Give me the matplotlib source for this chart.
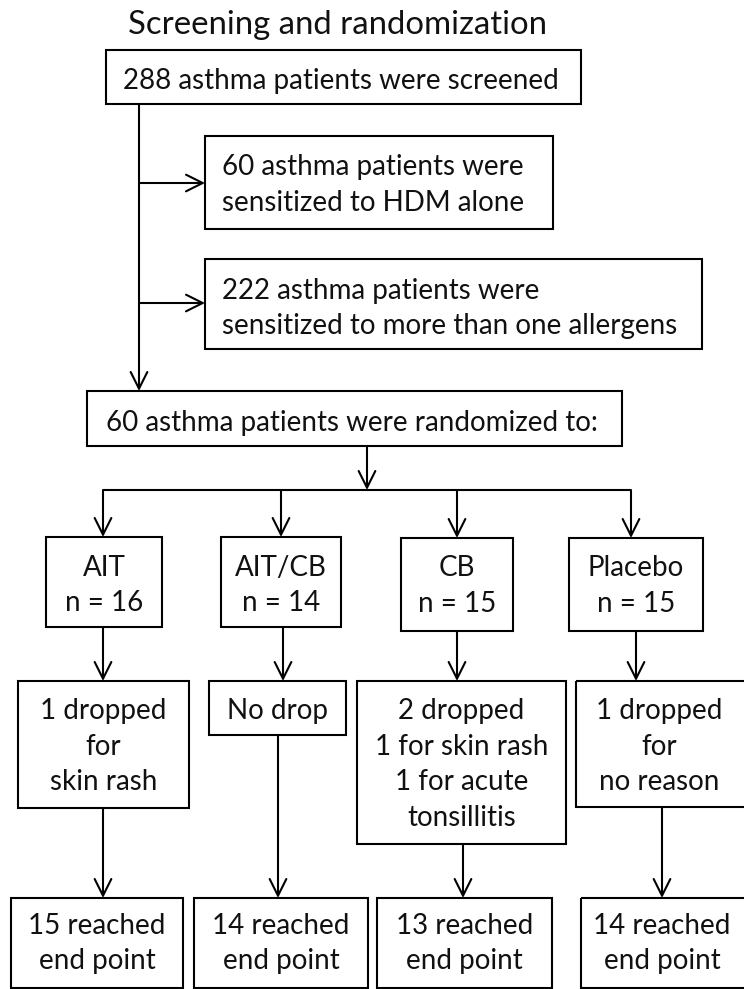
import matplotlib
matplotlib.use("Agg")
import matplotlib.pyplot as plt
from matplotlib.patches import Rectangle, FancyArrowPatch

# text content of the flow chart
TITLE = "Screening and randomization"
SCREENED = ["288 asthma patients were screened"]
HDM_ALONE = ["60 asthma patients were", "sensitized to HDM alone"]
MULTI = ["222 asthma patients were", "sensitized to more than one allergens"]
RANDOMIZED = ["60 asthma patients were randomized to:"]
GROUPS = ["AIT", "AIT/CB", "CB", "Placebo"]
GROUP_N = [16, 14, 15, 15]
DROPS = [
    ["1 dropped", "for", "skin rash"],
    ["No drop"],
    ["2 dropped", "1 for skin rash", "1 for acute", "tonsillitis"],
    ["1 dropped", "for", "no reason"],
]
REACHED = [15, 14, 13, 14]

# layout in pixel coordinates (x0, y0, x1, y1), y grows downward
W, H = 744, 989
GROUP_BOXES = [(46, 537, 162, 627), (221, 537, 341, 627), (401, 538, 513, 631), (569, 538, 703, 631)]
GROUP_IN_X = [103, 281, 457, 631]
GROUP_OUT_X = [103, 283, 457, 636]
DROP_BOXES = [(18, 681, 189, 808), (209, 681, 346, 735), (357, 681, 566, 844), (576, 681, 760, 807)]
DROP_OUT_X = [103, 278, 463, 662]
END_BOXES = [(11, 898, 183, 988), (194, 898, 368, 988), (377, 898, 552, 988), (581, 898, 760, 988)]

FONT = "Lato"
FS = 20
LINE_GAP = 35.5
LW = 1.5

fig = plt.figure(figsize=(W / 100, H / 100), dpi=100)
ax = fig.add_axes([0, 0, 1, 1])
ax.set_xlim(0, W)
ax.set_ylim(H, 0)
ax.axis("off")


def box(x0, y0, x1, y1):
    ax.add_patch(Rectangle((x0, y0), x1 - x0, y1 - y0, fill=False,
                           edgecolor="black", linewidth=LW, joinstyle="miter"))


def lines(x, y_first, texts, ha="center", size=FS):
    for i, t in enumerate(texts):
        ax.text(x, y_first + i * LINE_GAP, t, ha=ha, va="center_baseline",
                fontsize=size, family=FONT, color="#111111")


def arrow(x0, y0, x1, y1):
    ax.add_patch(FancyArrowPatch((x0, y0), (x1, y1),
                                 arrowstyle="->,head_length=1.2,head_width=0.6",
                                 mutation_scale=10, linewidth=LW, color="black",
                                 shrinkA=0, shrinkB=0))


def seg(xs, ys):
    ax.plot(xs, ys, color="black", linewidth=LW, solid_capstyle="butt")


lines(338, 22, [TITLE], size=23.7)

box(106, 50, 581, 104)
lines(341, 78, SCREENED)

box(205, 136, 553, 229)
lines(222, 165, HDM_ALONE, ha="left")
box(205, 259, 702, 349)
lines(222, 288, MULTI, ha="left")

seg([139, 139], [104, 300])
arrow(139, 300, 139, 391)
arrow(139, 183, 205, 183)
arrow(139, 303, 205, 303)

box(87, 391, 622, 446)
lines(352, 420, RANDOMIZED)
arrow(367, 446, 367, 490)
seg([GROUP_IN_X[0], GROUP_IN_X[-1]], [490, 490])

for i, (x0, y0, x1, y1) in enumerate(GROUP_BOXES):
    arrow(GROUP_IN_X[i], 490, GROUP_IN_X[i], y0)
    box(x0, y0, x1, y1)
    lines((x0 + x1) / 2, y0 + 28, [GROUPS[i], f"n = {GROUP_N[i]}"])
    arrow(GROUP_OUT_X[i], y1, GROUP_OUT_X[i], DROP_BOXES[i][1])

for i, (x0, y0, x1, y1) in enumerate(DROP_BOXES):
    box(x0, y0, x1, y1)
    cx = (x0 + x1) / 2 if i < 3 else 659
    lines(cx, 709, DROPS[i])
    arrow(DROP_OUT_X[i], y1, DROP_OUT_X[i], END_BOXES[i][1])

for i, (x0, y0, x1, y1) in enumerate(END_BOXES):
    box(x0, y0, x1, y1)
    cx = (x0 + x1) / 2 if i < 3 else 662
    lines(cx, 923, [f"{REACHED[i]} reached", "end point"])

fig.savefig("out.png", dpi=100)
